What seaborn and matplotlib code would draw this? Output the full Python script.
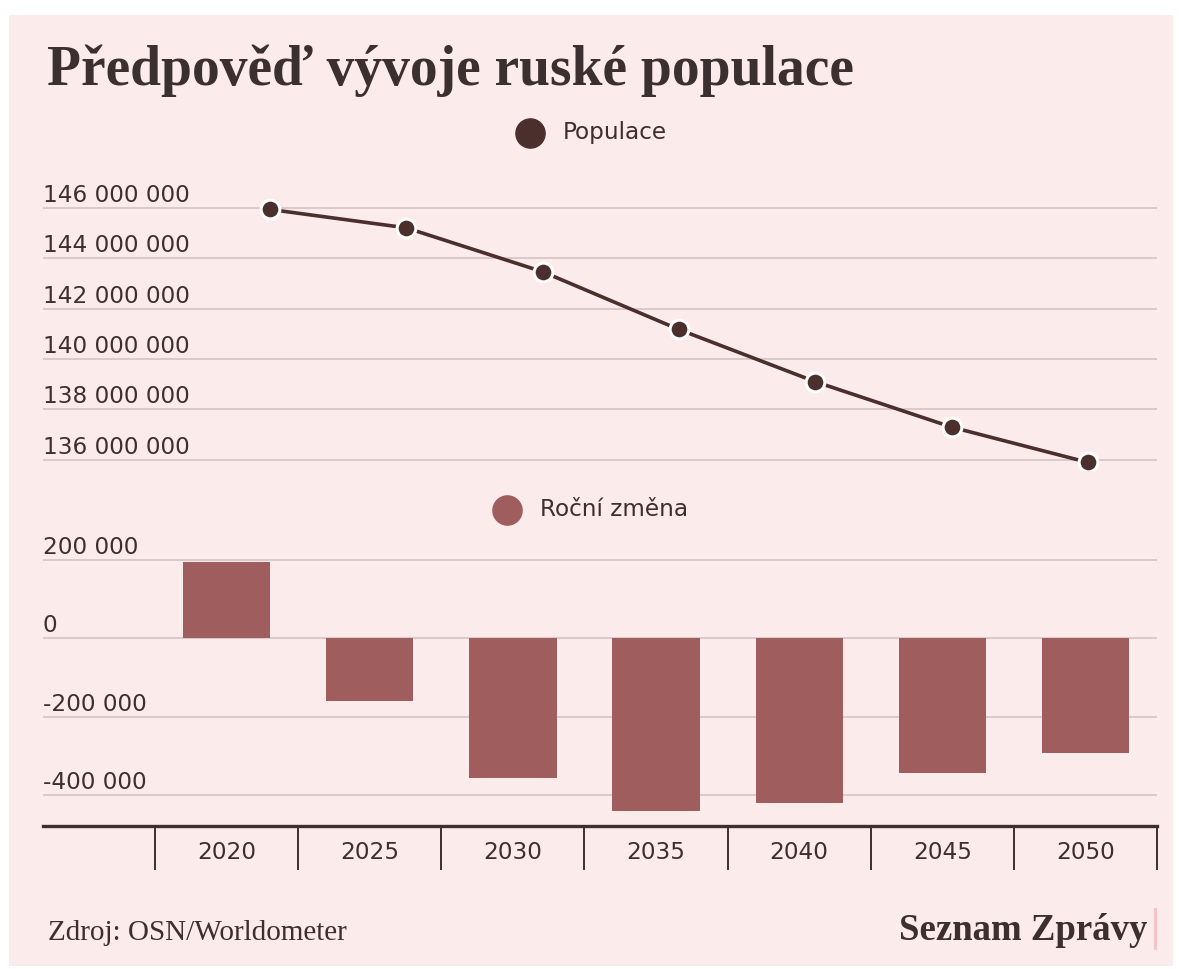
import numpy as np
import pandas as pd
import seaborn as sns
import matplotlib.pyplot as plt
from matplotlib.lines import Line2D
from matplotlib.patches import Rectangle
from matplotlib import transforms

# data
years = [2020, 2025, 2030, 2035, 2040, 2045, 2050]
year_labels = ["2020", "2025", "2030", "2035", "2040", "2045", "2050"]
population = [145930000, 145200000, 143460000, 141170000, 139100000, 137300000, 135900000]
annual_change = [194000, -160000, -357000, -441000, -420000, -344000, -293000]
pop_ticks = [136000000, 138000000, 140000000, 142000000, 144000000, 146000000]
chg_ticks = [-400000, -200000, 0, 200000]

BG = "#fcebeb"
TXT = "#3b2f2f"
LINE = "#4b2f2c"
BAR = "#a05d5d"
GRID = "#d9c6c6"

W, H = 1179, 969
fig = plt.figure(figsize=(W / 100, H / 100), dpi=100)
fig.patch.set_facecolor("white")
fig.patches.append(Rectangle((9 / W, 1 - 966 / H), (1173 - 9) / W, (966 - 15) / H,
                             transform=fig.transFigure, facecolor=BG, edgecolor="none", zorder=-10))

plt.rcParams["font.family"] = ["DejaVu Sans"]


def fmt(v):
    return f"{v:,}".replace(",", " ")


def px(x, y):
    return x / W, 1 - y / H


# --- top panel: population line ---
ax1 = fig.add_axes([43 / W, 1 - 470 / H, 1114 / W, 280 / H])
ax1.set_facecolor("none")
df_pop = pd.DataFrame({"year": years, "population": population})
sns.lineplot(data=df_pop, x="year", y="population", ax=ax1, color=LINE, linewidth=2.6,
             marker="o", markersize=13.5, markerfacecolor=LINE, markeredgecolor="white",
             markeredgewidth=2.2, zorder=5)
ax1.set_xlim(2011.68, 2052.53)
ax1.set_ylim(135.6e6, 146.7e6)
ax1.set_yticks(pop_ticks)
ax1.grid(axis="y", color=GRID, linewidth=1.3)
ax1.set_axisbelow(True)
ax1.tick_params(left=False, bottom=False, labelleft=False, labelbottom=False)
ax1.set_xlabel("")
ax1.set_ylabel("")
for s in ax1.spines.values():
    s.set_visible(False)
tr1 = transforms.offset_copy(ax1.get_yaxis_transform(), fig=fig, y=6, units="dots")
for v in pop_ticks:
    ax1.text(0, v, fmt(v), transform=tr1, ha="left", va="baseline", fontsize=16.7, color=TXT)

# --- bottom panel: annual change bars ---
ax2 = fig.add_axes([43 / W, 1 - 826 / H, 1114 / W, 286 / H])
ax2.set_facecolor("none")
df_chg = pd.DataFrame({"year": year_labels, "change": annual_change})
sns.barplot(data=df_chg, x="year", y="change", ax=ax2, color=BAR, saturation=1,
            width=0.61, zorder=3)
ax2.set_xlim(-1.283, 6.5)
ax2.set_ylim(-479000, 250000)
ax2.set_yticks(chg_ticks)
ax2.grid(axis="y", color=GRID, linewidth=1.3)
ax2.grid(axis="x", visible=False)
ax2.set_axisbelow(True)
ax2.tick_params(axis="y", left=False, labelleft=False)
ax2.set_xlabel("")
ax2.set_ylabel("")
for k in ["top", "right", "left"]:
    ax2.spines[k].set_visible(False)
ax2.spines["bottom"].set_color(TXT)
ax2.spines["bottom"].set_linewidth(2.4)
ax2.set_xticks(range(len(year_labels)))
ax2.set_xticklabels(year_labels)
ax2.set_xticks(np.arange(-0.5, len(year_labels)), minor=True)
ax2.tick_params(axis="x", which="major", length=0, pad=11, labelsize=16.7, labelcolor=TXT)
ax2.tick_params(axis="x", which="minor", length=32, width=1.4, color=TXT, direction="out")
tr2 = transforms.offset_copy(ax2.get_yaxis_transform(), fig=fig, y=6, units="dots")
for v in chg_ticks:
    ax2.text(0, v, fmt(v), transform=tr2, ha="left", va="baseline", fontsize=16.7, color=TXT)

# --- legends ---
fig.add_artist(Line2D([530 / W], [1 - 133 / H], transform=fig.transFigure, marker="o",
                      markersize=21, color=LINE, linestyle="none"))
fig.text(*px(563, 133), "Populace", ha="left", va="center", fontsize=16.7, color=TXT)
fig.add_artist(Line2D([507 / W], [1 - 510 / H], transform=fig.transFigure, marker="o",
                      markersize=21, color=BAR, linestyle="none"))
fig.text(*px(540, 510), "Roční změna", ha="left", va="center", fontsize=16.7, color=TXT)

# --- title and footer ---
fig.text(*px(47, 85), "Předpověď vývoje ruské populace", ha="left", va="baseline",
         fontsize=40, fontweight="bold", family=["Liberation Serif", "DejaVu Serif"], color=TXT)
fig.text(*px(48, 940), "Zdroj: OSN/Worldometer", ha="left", va="baseline",
         fontsize=21, family=["Liberation Serif", "DejaVu Serif"], color=TXT)
fig.text(*px(1147, 940), "Seznam Zprávy", ha="right", va="baseline",
         fontsize=26.5, fontweight="bold", family=["Liberation Serif", "DejaVu Serif"], color=TXT)
fig.add_artist(Line2D([1155 / W, 1155 / W], [1 - 909 / H, 1 - 948 / H], transform=fig.transFigure,
                      color="#f2c6c6", linewidth=2.2))

fig.savefig("out.png", dpi=100, facecolor=fig.get_facecolor())
